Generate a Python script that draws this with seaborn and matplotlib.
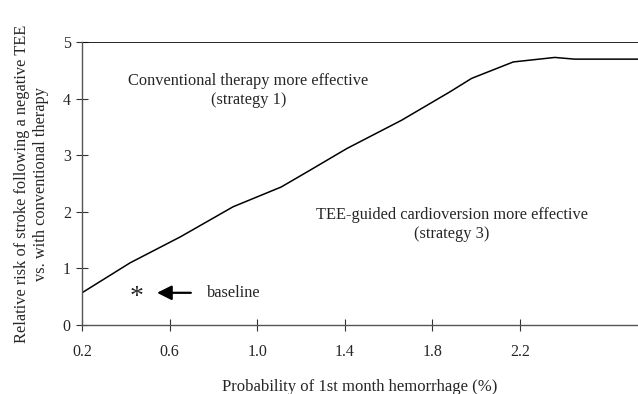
import pandas as pd
import matplotlib
matplotlib.use("Agg")
import matplotlib.pyplot as plt
import seaborn as sns

# Threshold curve
hemorrhage = [0.2, 0.42, 0.65, 0.89, 1.11, 1.23, 1.41, 1.66, 1.88, 1.98, 2.17, 2.36, 2.45, 2.74]
relative_risk = [0.57, 1.10, 1.56, 2.09, 2.44, 2.71, 3.12, 3.62, 4.12, 4.36, 4.65, 4.73, 4.70, 4.70]

x_ticks = [0.2, 0.6, 1.0, 1.4, 1.8, 2.2]
y_ticks = [0, 1, 2, 3, 4, 5]

baseline_x = 0.45
baseline_y = 0.57

df = pd.DataFrame({"hemorrhage": hemorrhage, "risk": relative_risk})

sns.set_style("ticks")
plt.rcParams['font.family'] = ['Liberation Serif', 'DejaVu Serif']

fig = plt.figure(figsize=(6.38, 3.94), dpi=100)
ax = fig.add_axes([0.1285, 0.175, 0.8715, 0.718])

sns.lineplot(data=df, x="hemorrhage", y="risk", color="black", linewidth=1.1, ax=ax)

# upper boundary line at 5
ax.axhline(5, color="black", linewidth=1.2)

ax.set_xlim(0.2, 2.74)
ax.set_ylim(0, 5)
ax.set_xticks(x_ticks)
ax.set_xticklabels([f"{t:.1f}" for t in x_ticks])
ax.set_yticks(y_ticks)

for s in ["top", "right"]:
    ax.spines[s].set_visible(False)
for s in ["left", "bottom"]:
    ax.spines[s].set_color("#555555")
    ax.spines[s].set_linewidth(1.0)

ax.tick_params(axis="x", direction="inout", length=8, pad=10, labelsize=11.5, color="#333333")
ax.tick_params(axis="y", direction="inout", length=8, pad=4, labelsize=11.5, color="#333333")

ax.set_xlabel("Probability of 1st month hemorrhage (%)", fontsize=12, labelpad=13)
ax.set_ylabel("Relative risk of stroke following a negative TEE\nvs. with conventional therapy",
              fontsize=11.8, labelpad=10, linespacing=1.25)

ax.text(0.96, 4.15, "Conventional therapy more effective\n(strategy 1)",
        ha="center", va="center", fontsize=11.8, linespacing=1.25)
ax.text(1.89, 1.78, "TEE-guided cardioversion more effective\n(strategy 3)",
        ha="center", va="center", fontsize=11.8, linespacing=1.25)

# baseline marker and arrow
ax.text(baseline_x, baseline_y - 0.08, "*", ha="center", va="center", fontsize=20)
ax.annotate("", xy=(0.53, baseline_y), xytext=(0.71, baseline_y),
            arrowprops=dict(arrowstyle="-|>", color="black", lw=1.6, mutation_scale=22))
ax.text(0.77, baseline_y, "baseline", ha="left", va="center", fontsize=11.8)

fig.savefig("out.png", dpi=100)
